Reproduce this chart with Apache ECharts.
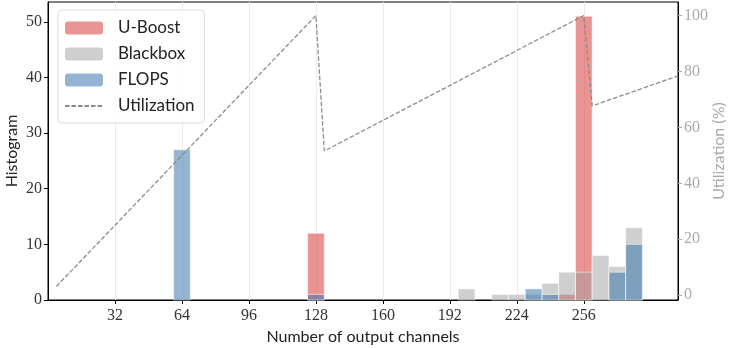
<!DOCTYPE html>
<html>
<head>
<meta charset="utf-8">
<script src="https://cdn.jsdelivr.net/npm/echarts@6/dist/echarts.min.js"></script>
<style>html,body{margin:0;padding:0;background:#fff}#c{width:730px;height:348px}</style>
</head>
<body>
<div id="c"></div>
<script>
// ---- data ----
const binCenters = [64, 128, 200, 216, 224, 232, 240, 248, 256, 264, 272, 280];
const binWidth = 8;
const uboost   = [0, 12, 0, 0, 0, 0, 0, 1, 51, 0, 0, 0];
const blackbox = [0, 0, 2, 1, 1, 1, 3, 5, 5, 8, 6, 13];
const flops    = [27, 1, 0, 0, 0, 2, 1, 0, 0, 0, 5, 10];
const utilX = [4, 128, 132, 256, 260, 301];
const utilY = [3.125, 100, 51.56, 100, 67.7, 78.4];
const xTicks = [32, 64, 96, 128, 160, 192, 224, 256];
const yTicks = [0, 10, 20, 30, 40, 50];
const y2Ticks = [0, 20, 40, 60, 80, 100];

const serif = '"Liberation Serif", "DejaVu Serif", serif';
const sans = 'Lato, "Liberation Sans", sans-serif';

function histSeries(name, values, color) {
  return {
    name: name,
    type: 'custom',
    xAxisIndex: 0, yAxisIndex: 0,
    itemStyle: { color: color },
    encode: { x: 0, y: 1 },
    data: binCenters.map((c, i) => [c, values[i]]),
    renderItem: function (params, api) {
      const c = api.value(0), v = api.value(1);
      if (!v) return null;
      const p0 = api.coord([c - binWidth / 2, 0]);
      const p1 = api.coord([c + binWidth / 2, v]);
      return {
        type: 'rect',
        shape: { x: p0[0], y: p1[1], width: p1[0] - p0[0], height: p0[1] - p1[1] },
        style: { fill: api.visual('color'), stroke: 'rgba(255,255,255,0.55)', lineWidth: 1 }
      };
    }
  };
}

const chart = echarts.init(document.getElementById('c'), null, { renderer: 'canvas' });
chart.setOption({
  animation: false,
  backgroundColor: '#fff',
  grid: { left: 48, right: 52, top: 2, bottom: 48, outerBoundsMode: 'none', containLabel: false,
          show: true, borderColor: '#000', borderWidth: 1, backgroundColor: 'transparent' },
  legend: {
    orient: 'vertical', left: 58, top: 10,
    data: [
      { name: 'U-Boost' }, { name: 'Blackbox' }, { name: 'FLOPS' },
      { name: 'Utilization', itemStyle: { opacity: 0 } }
    ],
    itemWidth: 38, itemHeight: 13, itemGap: 8,
    padding: [9, 10, 8, 6],
    borderColor: '#dcdcdc', borderWidth: 1, borderRadius: 4,
    backgroundColor: 'rgba(255,255,255,0.85)',
    textStyle: { fontFamily: sans, fontSize: 17, lineHeight: 18, color: '#222', padding: [0, 0, 0, 10] }
  },
  xAxis: {
    type: 'value', min: 0, max: 301,
    name: 'Number of output channels', nameLocation: 'middle', nameGap: 29, nameMoveOverlap: false,
    nameTextStyle: { fontFamily: sans, fontSize: 16, color: '#222' },
    axisLine: { show: true, lineStyle: { color: '#000', width: 1 } },
    axisTick: { show: true, customValues: xTicks, length: 4, lineStyle: { color: '#000' } },
    axisLabel: { customValues: xTicks, fontFamily: serif, fontSize: 16, color: '#333', margin: 8 },
    splitLine: { show: true, lineStyle: { color: '#ececec', width: 1 } }
  },
  yAxis: [
    {
      type: 'value', min: 0, max: 53.55, position: 'left',
      name: 'Histogram', nameLocation: 'middle', nameGap: 28, nameRotate: 90, nameMoveOverlap: false,
      nameTextStyle: { fontFamily: sans, fontSize: 16, color: '#222' },
      axisLine: { show: true, lineStyle: { color: '#000' } },
      axisTick: { show: true, customValues: yTicks, length: 4, lineStyle: { color: '#000' } },
      axisLabel: { customValues: yTicks, fontFamily: serif, fontSize: 16, color: '#333', margin: 6 },
      splitLine: { show: false }
    },
    {
      type: 'value', min: -1.72, max: 104.84, position: 'right',
      name: 'Utilization (%)', nameLocation: 'middle', nameGap: 33, nameRotate: 90, nameMoveOverlap: false,
      nameTextStyle: { fontFamily: sans, fontSize: 16, color: '#aaaaaa' },
      axisLine: { show: true, lineStyle: { color: '#000' } },
      axisTick: { show: true, customValues: y2Ticks, length: 4, lineStyle: { color: '#aaaaaa' } },
      axisLabel: { customValues: y2Ticks, fontFamily: serif, fontSize: 16, color: '#aaaaaa', margin: 6 },
      splitLine: { show: false }
    }
  ],
  series: [
    histSeries('U-Boost', uboost, 'rgba(214,39,40,0.5)'),
    histSeries('Blackbox', blackbox, 'rgba(160,160,160,0.5)'),
    histSeries('FLOPS', flops, 'rgba(60,120,172,0.55)'),
    {
      name: 'Utilization', type: 'line', yAxisIndex: 1, symbol: 'none',
      data: utilX.map((x, i) => [x, utilY[i]]),
      itemStyle: { color: '#8c8c8c' },
      lineStyle: { color: '#8c8c8c', width: 1.3, type: [4.5, 2] },
      z: 5
    }
  ]
});
</script>
</body>
</html>
